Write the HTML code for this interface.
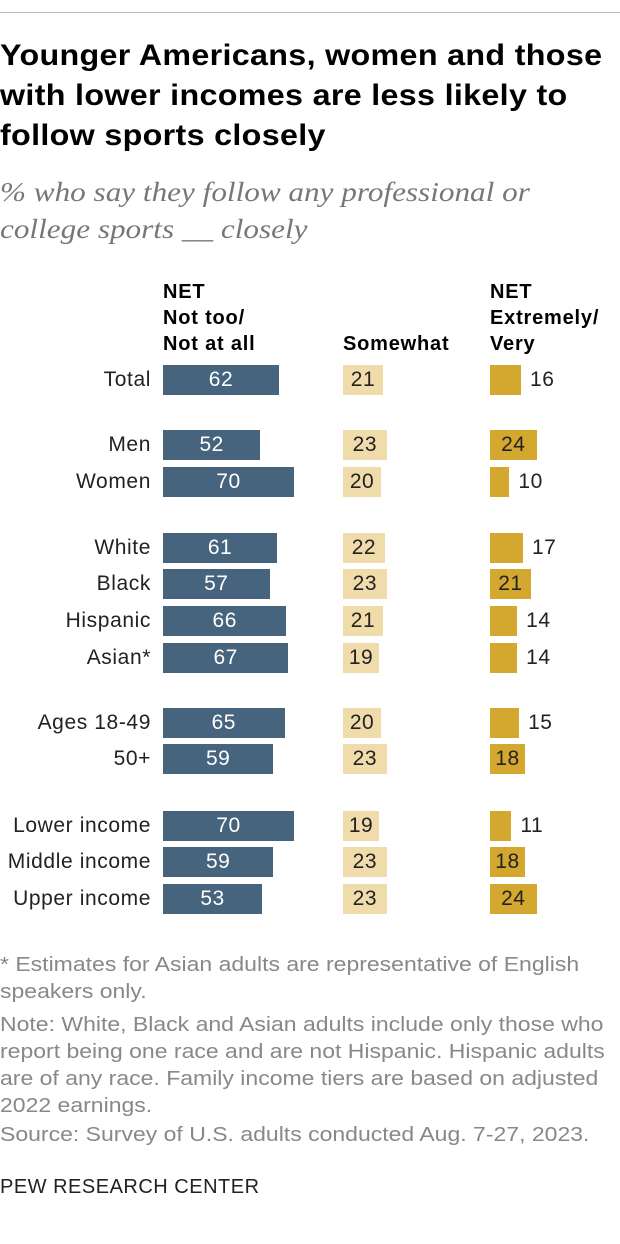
<!DOCTYPE html>
<html><head><meta charset="utf-8"><style>
body{margin:0;background:#fff;width:620px;height:1244px;position:relative;font-family:"Liberation Sans",sans-serif;overflow:hidden}
.abs{position:absolute}
.title{left:0;top:36px;font-size:30px;font-weight:bold;line-height:40px;color:#000;white-space:nowrap;transform:scaleX(1.075);transform-origin:left top;letter-spacing:0.3px}
.sub{left:0;top:174px;font-family:"Liberation Serif",serif;font-style:italic;font-size:27px;line-height:37px;color:#777;white-space:nowrap;transform:scaleX(1.155);transform-origin:left top}
.hdr{font-weight:bold;font-size:20px;line-height:26px;color:#000;letter-spacing:0.8px;white-space:nowrap}
.lab{font-size:21px;color:#222;text-align:right;width:151px;left:0;letter-spacing:0.6px;white-space:nowrap}
.val{font-size:21px;color:#222;letter-spacing:0.5px}
.note{left:0;font-size:20px;line-height:27px;color:#888;white-space:nowrap;transform:scaleX(1.15);transform-origin:left top}
</style></head><body>
<div class="abs" style="left:0;top:12px;width:620px;height:1px;background:#bbb"></div>
<div class="abs title">Younger Americans, women and those<br>with lower incomes are less likely to<br>follow sports closely</div>
<div class="abs sub">% who say they follow any professional or<br>college sports __ closely</div>
<div class="abs hdr" style="left:163px;top:279px">NET<br>Not too/<br>Not at all</div>
<div class="abs hdr" style="left:343px;top:331px">Somewhat</div>
<div class="abs hdr" style="left:490px;top:279px">NET<br>Extremely/<br>Very</div>
<div id="chart"></div>
<div class="abs note" style="top:952px">* Estimates for Asian adults are representative of English<br>speakers only.</div>
<div class="abs note" style="top:1012px">Note: White, Black and Asian adults include only those who<br>report being one race and are not Hispanic. Hispanic adults<br>are of any race. Family income tiers are based on adjusted<br>2022 earnings.</div>
<div class="abs note" style="top:1122px">Source: Survey of U.S. adults conducted Aug. 7-27, 2023.</div>
<div class="abs" style="left:0;top:1176px;font-size:20px;color:#222;letter-spacing:0.5px">PEW RESEARCH CENTER</div>
<script>
const categories=["Total","Men","Women","White","Black","Hispanic","Asian*","Ages 18-49","50+","Lower income","Middle income","Upper income"];
const notToo=[62,52,70,61,57,66,67,65,59,70,59,53];
const somewhat=[21,23,20,22,23,21,19,20,23,19,23,23];
const extremely=[16,24,10,17,21,14,14,15,18,11,18,24];
const rowY=[380,445,482,548,584,621,658,723,759,826,862,899];
const cols=[{d:notToo,x:163,s:1.87,c:"#46647e",t:"#fff",n:"not-too"},{d:somewhat,x:343,s:1.9,c:"#f0dcab",t:"#222",n:"somewhat"},{d:extremely,x:490,s:1.94,c:"#d4a82f",t:"#222",n:"extremely"}];
const root=document.getElementById('chart');
categories.forEach((cat,i)=>{
 const y=rowY[i];
 const l=document.createElement('div');
 l.className='abs lab';l.style.top=(y-12)+'px';l.textContent=cat;
 
 
 root.appendChild(l);
 cols.forEach(c=>{
  const v=c.d[i],w=v*c.s;
  const b=document.createElement('div');
  b.className='abs';b.style.cssText=`left:${c.x}px;top:${y-15}px;width:${w}px;height:30px;background:${c.c}`;
  
  
  root.appendChild(b);
  const t=document.createElement('div');
  t.className='abs val';t.textContent=v;
  const inside=w>=34;
  t.style.top=(y-12)+'px';
  if(inside){t.style.left=c.x+'px';t.style.width=w+'px';t.style.textAlign='center';t.style.color=c.t;}
  else{t.style.left=(c.x+w+9)+'px';t.style.color='#222';}
  
  
  root.appendChild(t);
 });
});
</script>
</body></html>
